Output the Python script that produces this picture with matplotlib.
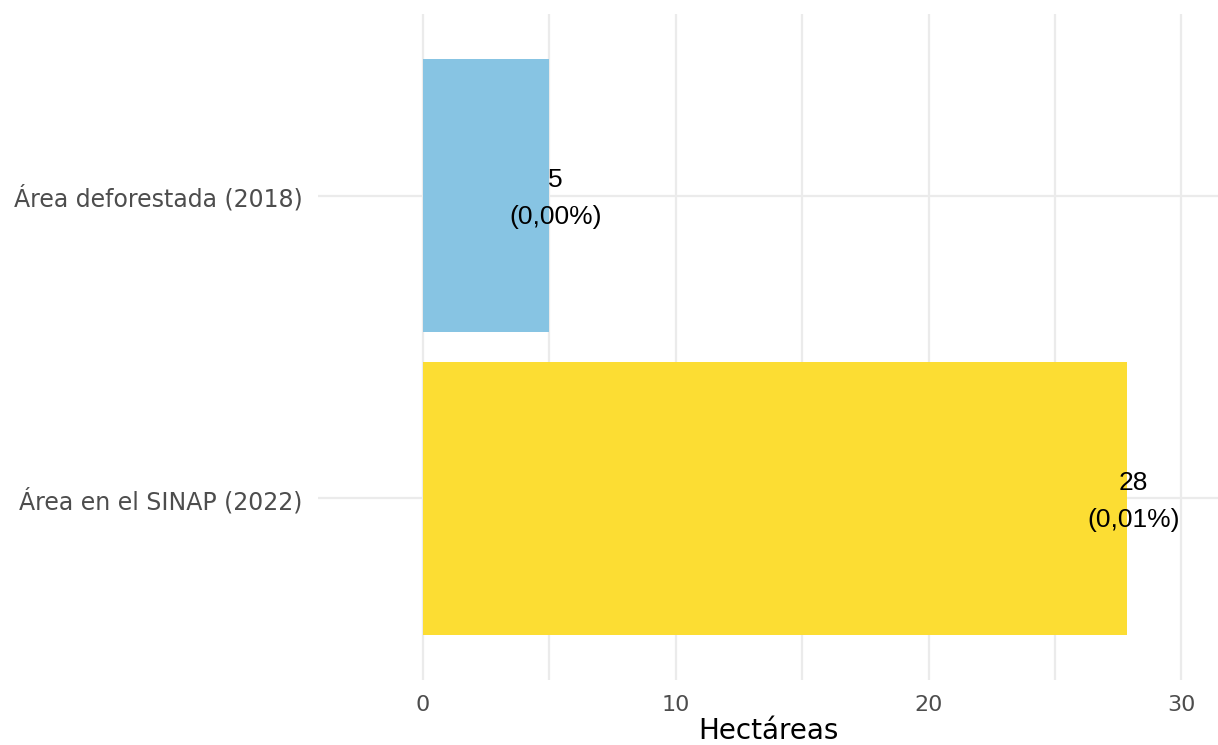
import matplotlib
matplotlib.use("Agg")
import matplotlib.pyplot as plt
from matplotlib.ticker import MultipleLocator

# data
categorias = ["Área en el SINAP (2022)", "Área deforestada (2018)"]
hectareas = [27.86, 4.99]
porcentajes = ["0,01%", "0,00%"]
colores = ["#FCDD33", "#87C4E3"]

fig = plt.figure(figsize=(12.18, 7.45), dpi=100)
ax = fig.add_axes([318 / 1218, 1 - 680 / 745, 1 - 318 / 1218, (680 - 14) / 745])

pos = list(range(len(categorias)))
ax.barh(pos, hectareas, height=0.9, color=colores, zorder=2)

# labels on bar ends
for p, v, pc in zip(pos, hectareas, porcentajes):
    ax.text(v + 0.25, p - 0.01, "{:.0f}\n({})".format(v, pc), ha="center", va="center",
            fontsize=19, family="Liberation Sans", color="black",
            linespacing=1.7, zorder=3)

ax.set_xlim(-4.15, 31.45)
ax.set_ylim(-0.6, 1.6)
ax.set_yticks(pos)
ax.set_yticklabels(categorias)
ax.xaxis.set_major_locator(MultipleLocator(10))
ax.xaxis.set_minor_locator(MultipleLocator(5))

ax.grid(True, which="major", axis="both", color="#ebebeb", linewidth=1.6, zorder=0)
ax.grid(True, which="minor", axis="x", color="#ebebeb", linewidth=1.6, zorder=0)
ax.set_axisbelow(True)

for s in ax.spines.values():
    s.set_visible(False)
ax.tick_params(which="both", length=0)
ax.tick_params(axis="x", labelsize=16, labelcolor="#4d4d4d", pad=11)
ax.tick_params(axis="y", labelsize=17, labelcolor="#4d4d4d", pad=11)

ax.set_xlabel("Hectáreas", fontsize=20, labelpad=1)

fig.savefig("out.png", dpi=100)
